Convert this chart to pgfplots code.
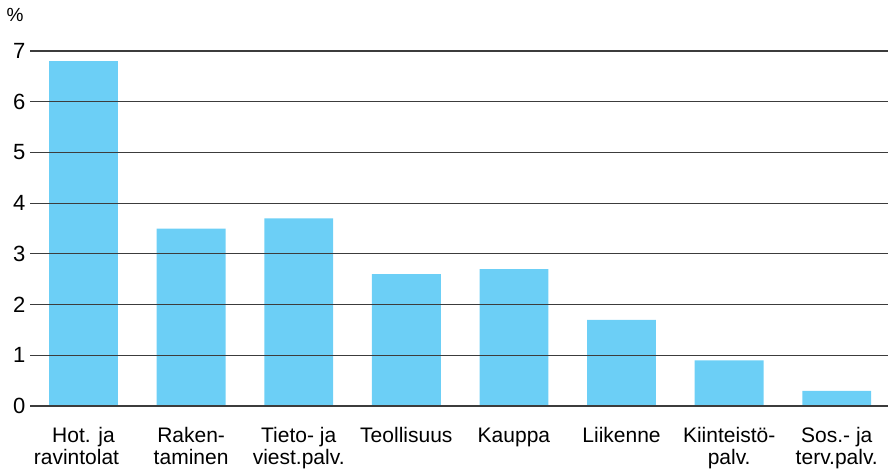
\documentclass[border=0pt]{standalone}
\usepackage{fontspec}
\setmainfont{Liberation Sans}
\usepackage{pgfplots}
\pgfplotsset{compat=1.18}
\definecolor{barblue}{RGB}{108,207,246}
\definecolor{gridc}{RGB}{60,60,60}
\begin{document}
\begin{tikzpicture}
\useasboundingbox (-30pt,-69pt) rectangle (860pt,406pt);
\begin{axis}[
  at={(0pt,0pt)}, anchor=south west,
  scale only axis, width=858pt, height=355pt,
  xmin=-0.497, xmax=7.476, ymin=0, ymax=7,
  axis line style={draw=none},
  axis on top,
  ymajorgrids,
  grid style={gridc, line width=1.2pt},
  major tick length=0pt,
  ytick={0,1,...,7},
  xtick={0,...,7},
  xticklabels={{\strut Hot. ja\\ravintolat\hspace*{14pt}},{\strut Raken-\\taminen},{\strut Tieto- ja\\viest.palv.},{\strut Teollisuus},{\strut Kauppa},{\strut Liikenne},{\strut Kiinteistö-\\palv.},{\strut Sos.- ja\\terv.palv.}},
  xticklabel style={align=center, font=\fontsize{21}{22.5}\selectfont, anchor=north, yshift=-17pt},
  yticklabel style={font=\fontsize{22}{24}\selectfont, xshift=-1pt},
  /pgf/number format/assume math mode=true,
  clip=false,
]
\addplot[ybar, bar width=0.64, fill=barblue, draw=none] coordinates {
  (0,6.8) (1,3.5) (2,3.7) (3,2.6) (4,2.7) (5,1.7) (6,0.9) (7,0.3)
};
\end{axis}
\node[font=\fontsize{19}{20}\selectfont] at (-15pt,391pt) {\%};
\end{tikzpicture}
\end{document}
